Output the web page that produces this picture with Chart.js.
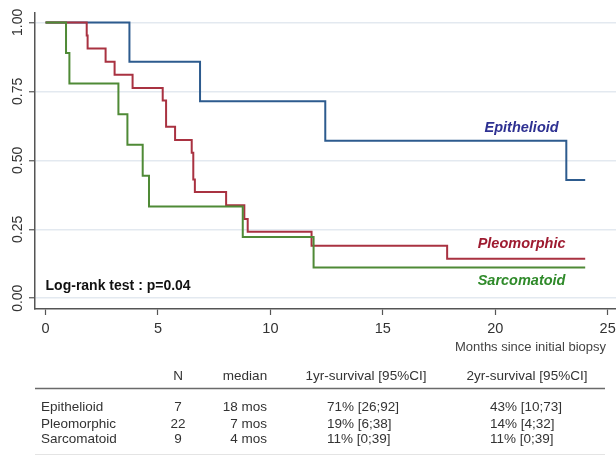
<!DOCTYPE html>
<html>
<head>
<meta charset="utf-8">
<script src="https://cdn.jsdelivr.net/npm/chart.js@4/dist/chart.umd.min.js"></script>
<style>
  html, body { margin: 0; padding: 0; background: #ffffff; }
  #wrap { position: relative; width: 616px; height: 456px; }
</style>
</head>
<body>
<div id="wrap"><canvas id="c" width="616" height="456"></canvas></div>
<script>
// ---- Data ----
const xTicks = [0, 5, 10, 15, 20, 25];
const yTicks = [0, 0.25, 0.5, 0.75, 1];
const yTickLabels = ["0.00", "0.25", "0.50", "0.75", "1.00"];

const epiTimes = [0, 3.73, 6.87, 12.44, 23.16, 24];
const epiSurv  = [1, 0.857, 0.714, 0.571, 0.429, 0.429];

const pleoTimes = [0, 1.83, 1.87, 2.67, 3.07, 3.87, 5.21, 5.36, 5.76, 6.5, 6.57, 6.64, 8.03, 8.84, 8.99, 11.83, 17.86, 24];
const pleoSurv  = [1, 0.952, 0.905, 0.857, 0.81, 0.762, 0.717, 0.622, 0.574, 0.527, 0.43, 0.385, 0.337, 0.287, 0.241, 0.19, 0.143, 0.143];

const sarcTimes = [0, 0.91, 1.06, 3.24, 3.64, 4.32, 4.6, 8.77, 11.92, 24];
const sarcSurv  = [1, 0.889, 0.778, 0.667, 0.556, 0.444, 0.333, 0.222, 0.111, 0.111];

const seriesNames = ["Epithelioid", "Pleomorphic", "Sarcomatoid"];

// Table
const tableHeader = ["N", "median", "1yr-survival [95%CI]", "2yr-survival [95%CI]"];
const tableN = ["7", "22", "9"];
const tableMedian = ["18 mos", "7 mos", "4 mos"];
const table1yr = ["71% [26;92]", "19% [6;38]", "11% [0;39]"];
const table2yr = ["43% [10;73]", "14% [4;32]", "11% [0;39]"];

const testText = "Log-rank test : p=0.04";
const xTitle = "Months since initial biopsy";

// ---- Styles ----
const lineColors = ["#2d5b8e", "#a93241", "#4f8a36"];
const labelColors = ["#2e3192", "#9e1b30", "#2f8a2a"];
const FONT = '"Liberation Sans", Arial, Helvetica, sans-serif';

function pts(t, s) { return t.map((v, i) => ({ x: v, y: s[i] })); }

const annotPlugin = {
  id: 'annot',
  afterDatasetsDraw(chart) {
    const ctx = chart.ctx;
    const xs = chart.scales.x, ys = chart.scales.y;
    ctx.save();
    // curve labels
    ctx.font = 'italic bold 14.5px ' + FONT;
    ctx.textAlign = 'center';
    ctx.textBaseline = 'middle';
    const lx = xs.getPixelForValue(21.17);
    const lyv = [0.618, 0.197, 0.061];
    seriesNames.forEach((n, i) => {
      ctx.fillStyle = labelColors[i];
      ctx.fillText(n, lx, ys.getPixelForValue(lyv[i]));
    });
    // log-rank text
    ctx.font = 'bold 14px ' + FONT;
    ctx.fillStyle = '#111';
    ctx.textAlign = 'left';
    ctx.fillText(testText, xs.getPixelForValue(0.0), ys.getPixelForValue(0.045));
    ctx.restore();
  },
  afterDraw(chart) {
    const ctx = chart.ctx;
    ctx.save();
    // axis title
    ctx.font = '13px ' + FONT;
    ctx.fillStyle = '#444';
    ctx.textAlign = 'right';
    ctx.textBaseline = 'middle';
    ctx.fillText(xTitle, 606, 347);

    // table
    ctx.fillStyle = '#333';
    ctx.font = '13.5px ' + FONT;
    ctx.textBaseline = 'middle';
    const hy = 376;
    ctx.textAlign = 'center';
    ctx.fillText(tableHeader[0], 178, hy);
    ctx.fillText(tableHeader[1], 245, hy);
    ctx.fillText(tableHeader[2], 366, hy);
    ctx.fillText(tableHeader[3], 527, hy);

    ctx.strokeStyle = '#6a6a6a';
    ctx.lineWidth = 1.6;
    ctx.beginPath(); ctx.moveTo(35, 388.5); ctx.lineTo(605, 388.5); ctx.stroke();
    ctx.strokeStyle = '#e4e4e4';
    ctx.lineWidth = 1;
    ctx.beginPath(); ctx.moveTo(35, 454.5); ctx.lineTo(605, 454.5); ctx.stroke();

    const rowY = [407.5, 424, 439.5];
    seriesNames.forEach((n, i) => {
      const y = rowY[i];
      ctx.textAlign = 'left';
      ctx.fillText(n, 41, y);
      ctx.textAlign = 'center';
      ctx.fillText(tableN[i], 178, y);
      ctx.textAlign = 'right';
      ctx.fillText(tableMedian[i], 267, y);
      ctx.textAlign = 'left';
      ctx.fillText(table1yr[i], 327, y);
      ctx.fillText(table2yr[i], 490, y);
    });
    ctx.restore();
  }
};

new Chart(document.getElementById('c'), {
  type: 'line',
  data: {
    datasets: [
      { label: seriesNames[0], data: pts(epiTimes, epiSurv), borderColor: lineColors[0] },
      { label: seriesNames[1], data: pts(pleoTimes, pleoSurv), borderColor: lineColors[1] },
      { label: seriesNames[2], data: pts(sarcTimes, sarcSurv), borderColor: lineColors[2] }
    ].map((d, i) => Object.assign(d, {
      stepped: 'before', borderWidth: 2, pointRadius: 0, fill: false, order: 3 - i
    }))
  },
  options: {
    responsive: false,
    animation: false,
    devicePixelRatio: 1,
    layout: { padding: { top: 13, right: 0, bottom: 117, left: 0 } },
    plugins: { legend: { display: false }, tooltip: { enabled: false } },
    scales: {
      x: {
        type: 'linear',
        min: -0.47,
        max: 25.37,
        afterBuildTicks(s) { s.ticks = xTicks.map(v => ({ value: v })); },
        afterFit(s) { s.height = 30; s.paddingLeft = 0; s.paddingRight = 0; },
        ticks: { autoSkip: false, maxRotation: 0, color: '#333', padding: 5,
                 font: { family: FONT, size: 14.5 } },
        grid: { drawOnChartArea: false, drawTicks: true, tickLength: 6, tickColor: '#555', tickWidth: 1.2 },
        border: { display: true, color: '#555', width: 1.5 }
      },
      y: {
        type: 'linear',
        min: -0.039,
        max: 1.034,
        afterBuildTicks(s) { s.ticks = yTicks.map(v => ({ value: v })); },
        afterFit(s) { s.width = 35; s.paddingTop = 0; s.paddingBottom = 0; },
        ticks: {
          minRotation: 90, maxRotation: 90, crossAlign: 'center', padding: -3,
          color: '#333', font: { family: FONT, size: 14 },
          callback(v) { const i = yTicks.indexOf(v); return i >= 0 ? yTickLabels[i] : ''; }
        },
        grid: { color: '#e3e9f0', lineWidth: 1.5, drawTicks: true, tickLength: 6, tickColor: '#555', tickWidth: 1.2 },
        border: { display: true, color: '#555', width: 1.5 }
      }
    }
  },
  plugins: [annotPlugin]
});
</script>
</body>
</html>
